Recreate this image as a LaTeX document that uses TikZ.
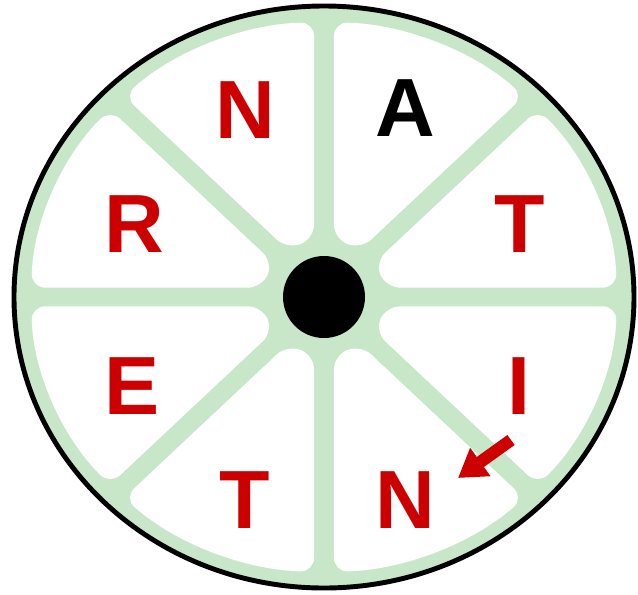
\documentclass[tikz,border=0pt]{standalone}
\usepackage{fontspec}
\setmainfont{Liberation Sans}
\usepackage{tikz}
\usetikzlibrary{calc,arrows.meta}
\definecolor{wheelgreen}{RGB}{200,230,200}
\definecolor{letterred}{RGB}{204,0,0}

\begin{document}
\begin{tikzpicture}[x=6.2cm,y=5.82cm,>={Triangle[length=5.5mm,width=6.6mm]},
  letter/.style={font=\fontsize{47}{47}\selectfont\bfseries,text=letterred,inner sep=0pt},
  sector/.style={fill=white,rounded corners=8pt}]
\useasboundingbox (-6.48cm,-5.94cm) rectangle (6.28cm,5.94cm);
\fill[wheelgreen] (0,0) ellipse[x radius=1,y radius=1];
\def\rin{0.2}\def\ro{0.945}\def\hw{0.032}
\pgfmathsetmacro\dd{asin(\hw/\ro)}
\foreach \a in {0,45,...,315}{
  \pgfmathsetmacro\b{\a+45}
  \pgfmathsetmacro\sa{\a+\dd}
  \pgfmathsetmacro\sb{\b-\dd}
  \pgfmathsetmacro\pa{\a+90}
  \pgfmathsetmacro\pb{\b-90}
  \path[sector] ($(\a:\rin)+(\pa:\hw)$) -- (\sa:\ro)
    arc[start angle=\sa,end angle=\sb,radius=\ro]
    -- ($(\b:\rin)+(\pb:\hw)$) -- cycle;
}
\draw[line width=2.8pt] (0,0) ellipse[x radius=1,y radius=1];
\fill (0,0) circle[radius=0.82cm];
\node[letter] (n1) at (-1.58cm,3.74cm) {N};
\node[letter,text=black] (a) at (1.62cm,3.78cm) {A};
\node[letter] (t1) at (3.92cm,1.46cm) {T};
\node[letter] (r) at (-3.80cm,1.46cm) {R};
\node[letter] (e) at (-3.84cm,-1.78cm) {E};
\node[letter] (i) at (3.90cm,-1.78cm) {I};
\node[letter] (t2) at (-1.58cm,-4.06cm) {T};
\node[letter] (n2) at (1.62cm,-4.06cm) {N};
\coordinate (tail) at (3.74cm,-2.86cm);
\coordinate (tip) at (2.68cm,-3.62cm);
\draw[->,letterred,line width=7pt] (tail) -- (tip);
\end{tikzpicture}
\end{document}
